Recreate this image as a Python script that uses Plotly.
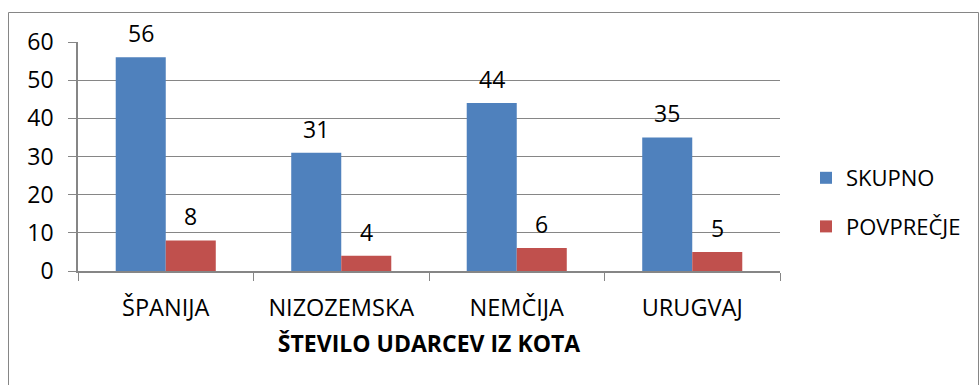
import plotly.graph_objects as go

# Corner kicks per team: total and per-match average
categories = ["ŠPANIJA", "NIZOZEMSKA", "NEMČIJA", "URUGVAJ"]
skupno = [56, 31, 44, 35]
povprecje = [8, 4, 6, 5]
y_ticks = [0, 10, 20, 30, 40, 50, 60]

FONT = "'Open Sans', Lato, sans-serif"
GRID = "#868686"
W, H = 979, 385
L, R, T, B = 78, 199, 42, 114
FS = 23

fig = go.Figure()
series = [("SKUPNO", skupno, "#4F81BD"), ("POVPREČJE", povprecje, "#C0504D")]
for i, (name, vals, color) in enumerate(series):
    fig.add_trace(go.Bar(
        x=categories, y=vals, name=name, marker_color=color,
        marker_line_width=0, legendgroup=name,
    ))
    # value labels above each bar
    shift = -25 if i == 0 else 25
    for c, v in zip(categories, vals):
        fig.add_annotation(
            x=c, y=v, xref="x", yref="y", text=str(v), showarrow=False,
            xshift=shift, yshift=24, font=dict(family=FONT, size=FS, color="#000000"),
        )

plot_w = W - L - R
plot_h = H - T - B
# chart-area frame
fig.add_shape(
    type="rect", xref="paper", yref="paper",
    x0=(8.5 - L) / plot_w, x1=(978.5 - L) / plot_w,
    y0=-(H + 10 - (H - B)) / plot_h, y1=(H - B - 12.5) / plot_h,
    line=dict(color=GRID, width=1), fillcolor="rgba(0,0,0,0)", layer="below",
)

fig.update_layout(
    width=W, height=H,
    margin=dict(l=L, r=R, t=T, b=B, autoexpand=False),
    paper_bgcolor="white", plot_bgcolor="white",
    barmode="group", bargap=0.43, bargroupgap=0,
    font=dict(family=FONT, size=FS, color="#000000"),
    showlegend=True,
    legend=dict(
        x=(806 - L) / plot_w, y=(H - B - 157) / plot_h, xanchor="left", yanchor="top",
        font=dict(family=FONT, size=FS - 1), traceorder="grouped", tracegroupgap=17,
        itemsizing="constant", bgcolor="rgba(0,0,0,0)",
    ),
    xaxis=dict(
        type="category", tickson="boundaries", ticks="outside", ticklen=8,
        tickcolor=GRID, showline=True, linecolor=GRID, linewidth=1.5,
        tickfont=dict(family=FONT, size=FS + 0.5), ticklabelstandoff=15,
        title=dict(text="<b>ŠTEVILO UDARCEV IZ KOTA</b>", standoff=14,
                   font=dict(family=FONT, size=FS)),
        automargin=False,
    ),
    yaxis=dict(
        range=[0, 60], tickvals=y_ticks, ticks="outside", ticklen=8,
        tickcolor=GRID, showline=True, linecolor=GRID, linewidth=1.5,
        showgrid=True, gridcolor=GRID, gridwidth=1.2, zeroline=False,
        tickfont=dict(family=FONT, size=FS), ticklabelstandoff=10,
        automargin=False,
    ),
)

fig.write_html("out.html")
